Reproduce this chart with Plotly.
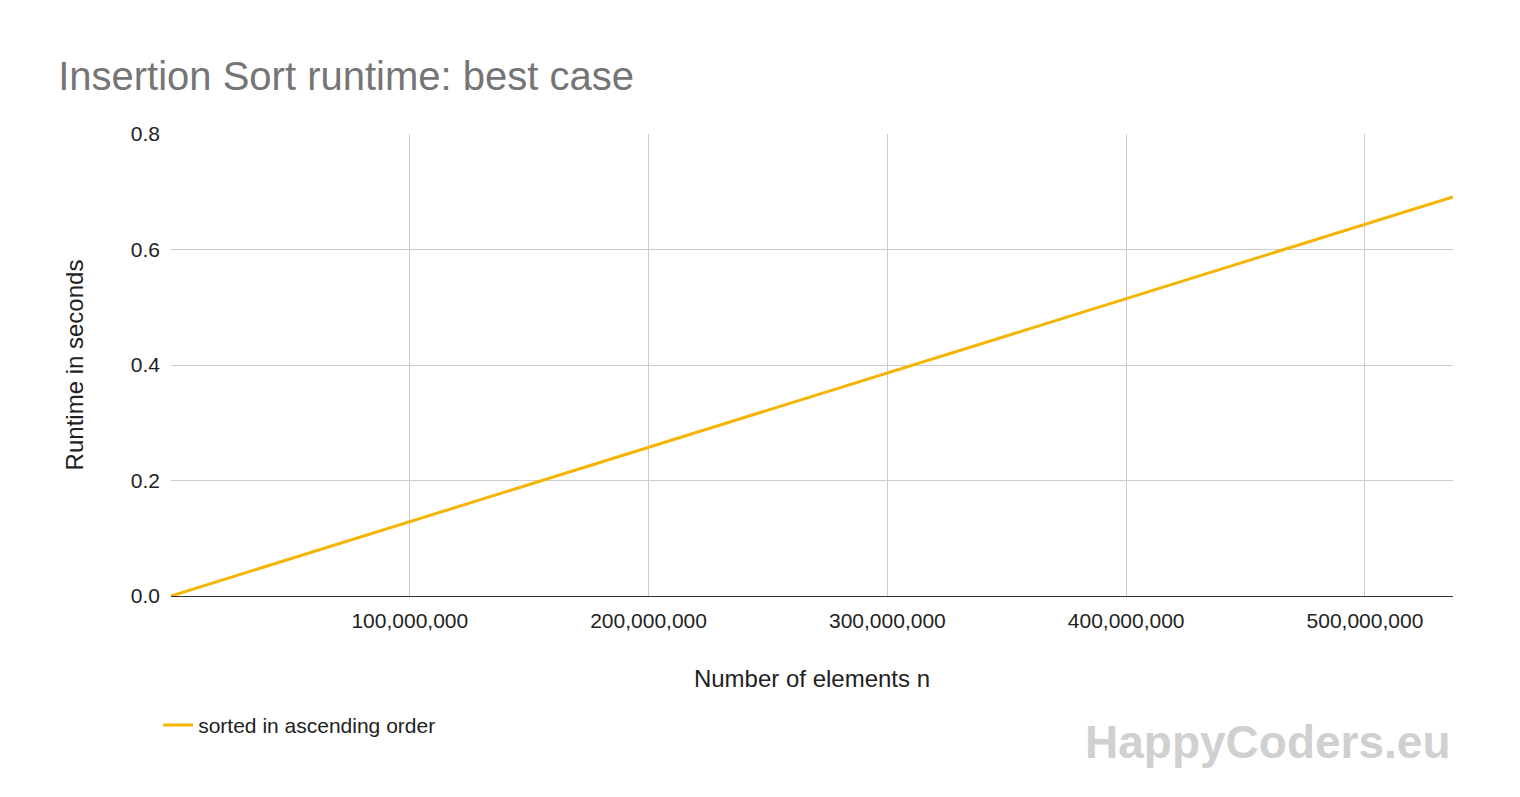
import plotly.graph_objects as go

# number of elements n and measured runtime (seconds)
n_values = [0, 16777216, 33554432, 67108864, 134217728, 268435456, 536870912]
runtime = [0.0, 0.0216, 0.0432, 0.0864, 0.1728, 0.3455, 0.691]

x_ticks = [100_000_000, 200_000_000, 300_000_000, 400_000_000, 500_000_000]
x_labels = ["100,000,000", "200,000,000", "300,000,000", "400,000,000", "500,000,000"]
y_ticks = [0, 0.2, 0.4, 0.6, 0.8]
y_labels = ["0.0", "0.2", "0.4", "0.6", "0.8"]

fig = go.Figure()
fig.add_trace(go.Scatter(
    x=n_values, y=runtime, mode="lines",
    name="sorted in ascending order",
    line={"color": "#F4B400", "width": 3},
))

fig.update_layout(
    width=1520, height=797,
    template="plotly_white",
    font={"family": "Liberation Sans, Arial, sans-serif", "size": 20, "color": "#222222"},
    title={"text": "Insertion Sort runtime: best case", "x": 0.033, "y": 0.915,
           "xanchor": "left", "yanchor": "middle",
           "font": {"size": 40, "color": "#757575"}},
    margin={"l": 163, "r": 75, "t": 126, "b": 209},
    showlegend=True,
    legend={"x": -0.01, "y": -0.28, "xanchor": "left", "yanchor": "middle",
            "orientation": "h", "font": {"size": 21}, "itemwidth": 30},
    xaxis={"title": {"text": "Number of elements n", "standoff": 38},
           "range": [0, 536870912], "tickvals": x_ticks, "ticktext": x_labels,
           "showgrid": True, "gridcolor": "#cccccc", "zeroline": False,
           "showline": True, "linecolor": "#333333", "ticks": "",
           "ticklabelstandoff": 6, "tickfont": {"size": 21}},
    yaxis={"title": {"text": "Runtime in seconds", "standoff": 40},
           "range": [0, 0.8], "tickvals": y_ticks, "ticktext": y_labels,
           "showgrid": True, "gridcolor": "#cccccc", "zeroline": False, "ticks": "",
           "ticklabelstandoff": 10, "tickfont": {"size": 21}},
)

fig.add_annotation(
    text="<b>HappyCoders.eu</b>", xref="paper", yref="paper",
    x=1.0, y=-0.315, xanchor="right", yanchor="middle", showarrow=False,
    font={"size": 46, "color": "#d0d0d0", "family": "Liberation Sans, Arial"},
)

fig.write_html("out.html")
